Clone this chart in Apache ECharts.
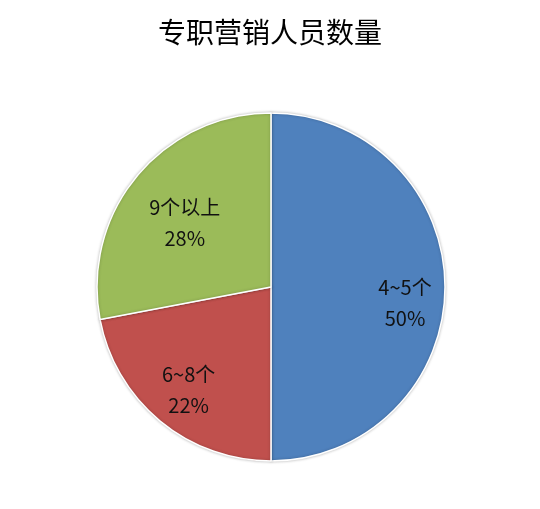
<!DOCTYPE html>
<html>
<head>
<meta charset="utf-8">
<script src="https://cdn.jsdelivr.net/npm/echarts@6/dist/echarts.min.js"></script>
<style>
html,body{margin:0;padding:0;background:#fff;}
#chart{width:540px;height:509px;}
</style>
</head>
<body>
<div id="chart"></div>
<script>
var chartTitle = '专职营销人员数量';
var categories = ['4~5个', '6~8个', '9个以上'];
var values = [50, 22, 28];

var colors = ['#4F81BD', '#C0504D', '#9BBB59'];
var labelNudges = [[0, 16], [3, 0], [17, 21]];

var chart = echarts.init(document.getElementById('chart'));
chart.setOption({
  backgroundColor: '#fff',
  animation: false,
  title: {
    text: chartTitle,
    left: 'center',
    top: 13,
    textStyle: {
      fontFamily: 'Noto Sans CJK SC',
      fontSize: 28,
      fontWeight: 'normal',
      color: '#000'
    }
  },
  series: [
    {
      type: 'pie',
      center: [271, 287],
      radius: [0, 174],
      startAngle: 90,
      clockwise: true,
      silent: true,
      label: { show: false },
      labelLine: { show: false },
      itemStyle: {
        borderColor: '#fff',
        borderWidth: 1.5,
        shadowColor: 'rgba(0,0,0,0.25)',
        shadowBlur: 3
      },
      data: categories.map(function (c, i) {
        return { name: c, value: values[i], itemStyle: { color: colors[i] } };
      })
    },
    {
      type: 'pie',
      center: [271, 287],
      radius: [88, 174],
      startAngle: 90,
      clockwise: true,
      silent: true,
      itemStyle: { color: 'rgba(0,0,0,0)' },
      label: {
        show: true,
        position: 'inside',
        rotate: 0,
        fontFamily: 'Noto Sans CJK SC',
        fontSize: 20,
        lineHeight: 31,
        color: '#111',
        formatter: function (p) { return p.name + '\n' + p.value + '%'; }
      },
      labelLine: { show: false },
      data: categories.map(function (c, i) {
        return { name: c, value: values[i], label: { offset: labelNudges[i] } };
      })
    }
  ]
});
</script>
</body>
</html>
